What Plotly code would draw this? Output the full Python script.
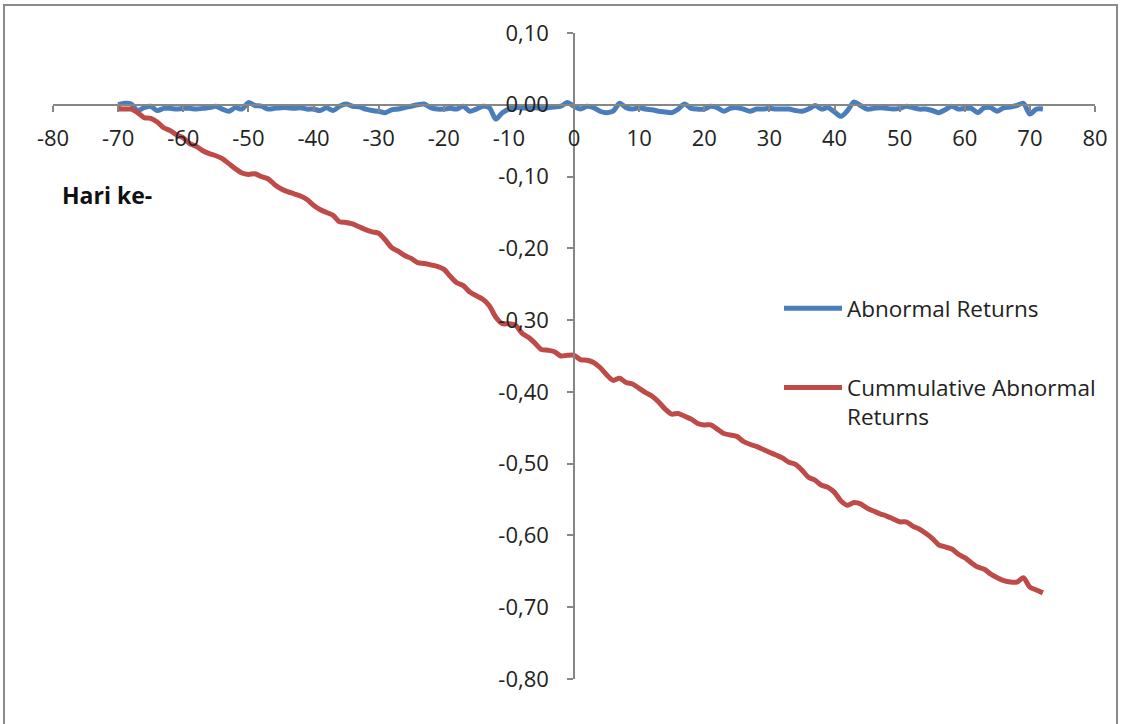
import plotly.graph_objects as go

# ---------------- data ----------------
days = list(range(-70, 73))

abnormal_returns = [
    0.000, 0.002, 0.001, -0.008, -0.004, -0.002, -0.008, -0.005, -0.005, -0.006,   # -70..-61
    -0.005, -0.005, -0.006, -0.005, -0.004, -0.002, -0.006, -0.009, -0.004, -0.006,  # -60..-51
    0.003, -0.001, -0.002, -0.006, -0.005, -0.004, -0.004, -0.005, -0.004, -0.006,   # -50..-41
    -0.006, -0.008, -0.004, -0.008, -0.002, 0.001, -0.002, -0.003, -0.006, -0.008,   # -40..-31
    -0.009, -0.011, -0.007, -0.006, -0.004, -0.002, 0.000, 0.001, -0.004, -0.006,    # -30..-21
    -0.006, -0.005, -0.006, -0.002, -0.009, -0.006, -0.002, -0.004, -0.020, -0.011,  # -20..-11
    -0.006, -0.004, -0.004, -0.005, -0.004, -0.005, -0.004, -0.003, -0.002, 0.003,   # -10..-1
    -0.002, -0.006, -0.002, -0.004, -0.009, -0.011, -0.009, 0.002, -0.004, -0.006,   # 0..9
    -0.004, -0.006, -0.007, -0.009, -0.010, -0.011, -0.006, 0.001, -0.005, -0.006,   # 10..19
    -0.006, -0.002, -0.004, -0.009, -0.005, -0.004, -0.006, -0.009, -0.006, -0.006,  # 20..29
    -0.005, -0.006, -0.006, -0.006, -0.008, -0.009, -0.006, -0.001, -0.006, -0.004,  # 30..39
    -0.010, -0.016, -0.008, 0.004, -0.001, -0.006, -0.005, -0.004, -0.005, -0.006,   # 40..49
    -0.005, -0.002, -0.004, -0.006, -0.006, -0.008, -0.011, -0.007, -0.002, -0.006,  # 50..59
    -0.005, -0.005, -0.011, -0.004, -0.004, -0.009, -0.004, -0.003, -0.001, 0.002,   # 60..69
    -0.013, -0.006, -0.006,                                                          # 70..72
]

cumulative_abnormal_returns = [
    -0.006, -0.006, -0.006, -0.011, -0.018, -0.019, -0.024, -0.032, -0.036, -0.042,  # -70..-61
    -0.046, -0.054, -0.058, -0.064, -0.068, -0.071, -0.075, -0.082, -0.089, -0.095,  # -60..-51
    -0.097, -0.096, -0.100, -0.103, -0.111, -0.117, -0.121, -0.124, -0.127, -0.132,  # -50..-41
    -0.140, -0.146, -0.150, -0.154, -0.163, -0.164, -0.166, -0.170, -0.174, -0.177,  # -40..-31
    -0.179, -0.188, -0.199, -0.204, -0.210, -0.214, -0.220, -0.221, -0.223, -0.225,  # -30..-21
    -0.229, -0.239, -0.248, -0.252, -0.261, -0.266, -0.271, -0.280, -0.296, -0.305,  # -20..-11
    -0.305, -0.307, -0.318, -0.324, -0.332, -0.341, -0.342, -0.344, -0.350, -0.349,  # -10..-1
    -0.349, -0.355, -0.356, -0.359, -0.366, -0.376, -0.384, -0.381, -0.387, -0.389,  # 0..9
    -0.395, -0.401, -0.406, -0.414, -0.424, -0.431, -0.430, -0.434, -0.438, -0.444,  # 10..19
    -0.446, -0.446, -0.452, -0.458, -0.460, -0.462, -0.469, -0.473, -0.476, -0.480,  # 20..29
    -0.484, -0.488, -0.492, -0.498, -0.501, -0.509, -0.519, -0.523, -0.530, -0.533,  # 30..39
    -0.540, -0.552, -0.558, -0.554, -0.556, -0.562, -0.566, -0.570, -0.573, -0.577,  # 40..49
    -0.581, -0.581, -0.587, -0.591, -0.597, -0.604, -0.613, -0.616, -0.619, -0.626,  # 50..59
    -0.631, -0.638, -0.644, -0.647, -0.654, -0.659, -0.663, -0.665, -0.665, -0.659,  # 60..69
    -0.672, -0.676, -0.680,                                                          # 70..72
]

series_names = ["Abnormal Returns", "Cummulative Abnormal<br>Returns"]
series_colors = ["#4A7EBB", "#BE4B48"]

x_tick_values = [-80, -70, -60, -50, -40, -30, -20, -10, 0, 10, 20, 30, 40, 50, 60, 70, 80]
x_tick_labels = ["-80", "-70", "-60", "-50", "-40", "-30", "-20", "-10", "0",
                 "10", "20", "30", "40", "50", "60", "70", "80"]
y_tick_values = [0.10, 0.00, -0.10, -0.20, -0.30, -0.40, -0.50, -0.60, -0.70, -0.80]
y_tick_labels = ["0,10", "0,00", "-0,10", "-0,20", "-0,30", "-0,40", "-0,50",
                 "-0,60", "-0,70", "-0,80"]

x_axis_title = "Hari ke-"

assert len(days) == len(abnormal_returns) == len(cumulative_abnormal_returns)

# ---------------- layout geometry ----------------
W, H = 1121, 724
FONT = "Open Sans"
AXIS_GREY = "#868686"
TEXT = "#222222"

x_range = [-80, 80]
y_range = [-0.80, 0.10]
x_dom = [53 / W, 1095 / W]
y_dom = [1 - 679 / H, 1 - 33 / H]

# axes cross at (0, 0)
x_axis_pos = y_dom[0] + (0 - y_range[0]) / (y_range[1] - y_range[0]) * (y_dom[1] - y_dom[0])
y_axis_pos = x_dom[0] + (0 - x_range[0]) / (x_range[1] - x_range[0]) * (x_dom[1] - x_dom[0])

fig = go.Figure()
for name, vals, col, grp in zip(series_names,
                                [abnormal_returns, cumulative_abnormal_returns],
                                series_colors, ["g1", "g2"]):
    fig.add_trace(go.Scatter(
        x=days, y=vals, mode="lines", name=name, legendgroup=grp,
        line=dict(color=col, width=5, shape="spline", smoothing=0.8),
        hoverinfo="skip",
    ))

fig.update_layout(
    width=W, height=H,
    margin=dict(l=0, r=0, t=0, b=0, pad=0, autoexpand=False),
    paper_bgcolor="white", plot_bgcolor="rgba(0,0,0,0)",
    font=dict(family=FONT, size=22, color=TEXT),
    showlegend=True,
    legend=dict(
        x=779 / W, y=1 - 287 / H, xanchor="left", yanchor="top",
        bgcolor="rgba(0,0,0,0)", borderwidth=0,
        font=dict(family=FONT, size=22.5, color=TEXT),
        tracegroupgap=47, itemwidth=58, valign="top",
        traceorder="grouped",
    ),
    xaxis=dict(
        range=x_range, domain=x_dom, anchor="free", position=x_axis_pos,
        automargin=False,
        tickmode="array", tickvals=x_tick_values, ticktext=x_tick_labels,
        ticks="outside", ticklen=6, tickwidth=1.5, tickcolor=AXIS_GREY,
        showline=True, linecolor=AXIS_GREY, linewidth=1.5,
        showgrid=False, zeroline=False, ticklabelstandoff=8,
        tickfont=dict(family=FONT, size=22, color=TEXT),
    ),
    yaxis=dict(
        range=y_range, domain=y_dom, anchor="free", position=y_axis_pos,
        automargin=False,
        tickmode="array", tickvals=y_tick_values, ticktext=y_tick_labels,
        ticks="outside", ticklen=6, tickwidth=1.5, tickcolor=AXIS_GREY,
        showline=True, linecolor=AXIS_GREY, linewidth=1.5,
        showgrid=False, zeroline=False, ticklabelstandoff=14,
        tickfont=dict(family=FONT, size=22, color=TEXT),
    ),
    shapes=[dict(type="rect", xref="paper", yref="paper",
                 x0=4 / W, x1=1117 / W, y0=-0.05, y1=1 - 5 / H,
                 line=dict(color="#8A8A8A", width=2), fillcolor="rgba(0,0,0,0)",
                 layer="below")],
    annotations=[dict(text="<b>" + x_axis_title + "</b>", xref="paper", yref="paper",
                      x=60 / W, y=1 - 195 / H, xanchor="left", yanchor="middle",
                      showarrow=False, font=dict(family=FONT, size=23, color="#111111"))],
)

fig.write_html("out.html")
